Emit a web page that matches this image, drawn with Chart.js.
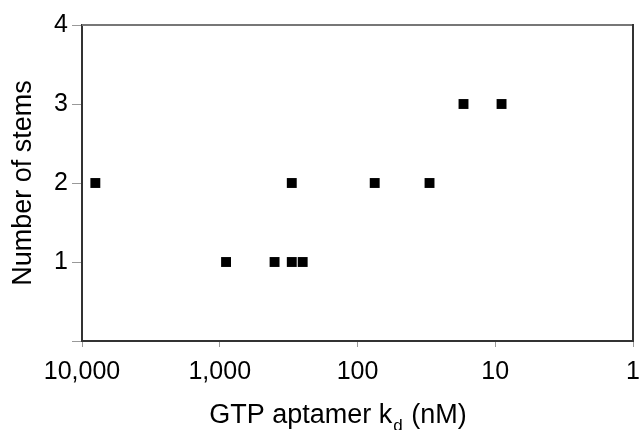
<!DOCTYPE html>
<html lang="en">

<head>
    <meta charset="UTF-8">
    <title>Number of stems vs GTP aptamer kd</title>
    <script src="https://cdn.jsdelivr.net/npm/chart.js"></script>
    <style>
        body { margin: 0; background: #fff; }
    </style>
</head>

<body>
    <canvas id="stemsChart" width="641" height="430"></canvas>

    <script>
        // data
        const kdValues = [8000, 900, 400, 300, 300, 250, 75, 30, 17, 9];   // nM
        const stemCounts = [2, 1, 1, 1, 2, 1, 2, 2, 3, 3];
        const xTickValues = [1, 10, 100, 1000, 10000];
        const yTickValues = [0, 1, 2, 3, 4];

        const FONT = "'Liberation Sans', Arial, sans-serif";

        const points = kdValues.map((kd, i) => ({ x: kd, y: stemCounts[i] }));

        // box on top/right + x title with subscript
        const framePlugin = {
            id: 'frame',
            afterDraw(chart) {
                const { ctx, chartArea: a } = chart;
                ctx.save();
                ctx.lineWidth = 2;
                ctx.strokeStyle = '#777';
                ctx.beginPath();
                ctx.moveTo(a.left, a.top);
                ctx.lineTo(a.right, a.top);
                ctx.stroke();
                ctx.strokeStyle = '#333';
                ctx.beginPath();
                ctx.moveTo(a.right, a.top - 1);
                ctx.lineTo(a.right, a.bottom);
                ctx.stroke();

                // x axis title: GTP aptamer k_d (nM)
                ctx.fillStyle = '#000';
                ctx.textBaseline = 'alphabetic';
                ctx.textAlign = 'left';
                const big = '27px ' + FONT, small = '17px ' + FONT;
                const t1 = 'GTP aptamer k', sub = 'd', t2 = ' (nM)';
                ctx.font = big;
                const w1 = ctx.measureText(t1).width, w3 = ctx.measureText(t2).width;
                ctx.font = small;
                const w2 = ctx.measureText(sub).width + 2;
                const cx = 338, base = 423;
                let x = cx - (w1 + w2 + w3) / 2;
                ctx.font = big;
                ctx.fillText(t1, x, base);
                x += w1;
                ctx.font = small;
                ctx.fillText(sub, x + 1, base + 8);
                x += w2;
                ctx.font = big;
                ctx.fillText(t2, x, base);
                ctx.restore();
            }
        };

        const ctx = document.getElementById('stemsChart').getContext('2d');
        const chart = new Chart(ctx, {
            type: 'scatter',
            data: {
                datasets: [{
                    data: points,
                    pointStyle: 'rect',
                    pointRadius: 7,
                    pointHoverRadius: 7,
                    backgroundColor: '#000',
                    borderColor: '#000',
                    borderWidth: 0
                }]
            },
            options: {
                responsive: false,
                animation: false,
                layout: { padding: { top: 25, right: 8, left: 0, bottom: 0 } },
                plugins: { legend: { display: false }, tooltip: { enabled: false } },
                scales: {
                    x: {
                        type: 'logarithmic',
                        reverse: true,
                        min: 1,
                        max: 10000,
                        afterBuildTicks: scale => {
                            scale.ticks = xTickValues.map(v => ({ value: v }));
                        },
                        afterFit: scale => { scale.height = 89; },
                        grid: { drawOnChartArea: false, color: '#999', tickLength: 6, lineWidth: 1 },
                        border: { color: '#333', width: 2 },
                        ticks: {
                            color: '#000',
                            font: { family: FONT, size: 25 },
                            padding: 10,
                            maxRotation: 0,
                            callback: v => Number(v).toLocaleString('en-US')
                        },
                        title: { display: false }
                    },
                    y: {
                        min: 0,
                        max: 4,
                        afterBuildTicks: scale => {
                            scale.ticks = yTickValues.map(v => ({ value: v }));
                        },
                        afterFit: scale => { scale.width = 82; },
                        grid: { drawOnChartArea: false, color: '#999', tickLength: 10, lineWidth: 1 },
                        border: { color: '#333', width: 2 },
                        ticks: {
                            color: '#000',
                            font: { family: FONT, size: 25 },
                            padding: 4,
                            callback: v => v === 0 ? '' : v
                        },
                        title: {
                            display: true,
                            text: 'Number of stems',
                            color: '#000',
                            font: { family: FONT, size: 27 },
                            padding: { top: 7, bottom: 0 }
                        }
                    }
                }
            },
            plugins: [framePlugin]
        });
    </script>
</body>

</html>
